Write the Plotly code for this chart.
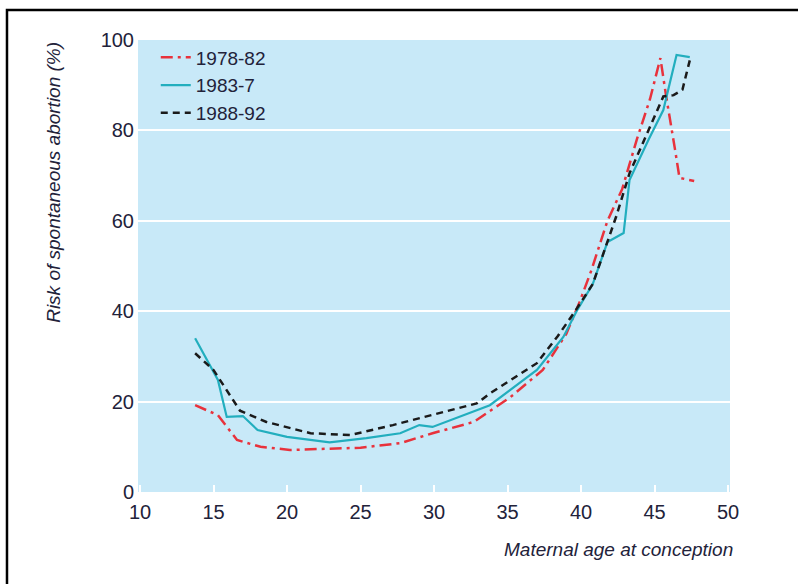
import plotly.graph_objects as go

# Maternal age (x) and risk (%) for each period
red_x = [13.75, 15.3, 16.6, 18.2, 20.2, 22.5, 25.0, 27.7, 29.9, 32.7, 33.8, 35.2, 37.4, 39.0, 39.9, 40.7, 41.8, 42.8, 43.8, 44.7, 45.4, 45.8, 46.4, 46.7, 47.7]
red_y = [19.2, 17.0, 11.5, 10.0, 9.3, 9.6, 9.8, 10.8, 13.0, 15.5, 18.0, 21.0, 27.0, 35.0, 42.0, 49.0, 60.0, 67.0, 78.0, 87.0, 96.0, 87.4, 75.7, 69.5, 68.8]

teal_x = [13.75, 15.3, 15.9, 17.0, 18.0, 20.0, 22.9, 25.4, 27.7, 29.0, 29.9, 33.8, 37.0, 38.8, 39.7, 40.8, 41.8, 42.9, 43.3, 44.6, 45.6, 46.5, 47.4]
teal_y = [34.0, 24.8, 16.6, 16.8, 13.7, 12.2, 11.0, 11.9, 13.0, 14.8, 14.4, 19.2, 27.0, 34.3, 40.0, 46.0, 55.3, 57.3, 69.0, 78.0, 84.5, 96.7, 96.2]

black_x = [13.75, 15.0, 16.8, 18.6, 21.6, 24.3, 27.2, 29.9, 32.9, 33.8, 37.0, 38.4, 39.6, 40.8, 42.0, 42.4, 43.3, 44.2, 45.2, 45.6, 46.3, 46.9, 47.4]
black_y = [30.7, 27.0, 18.0, 15.5, 13.0, 12.6, 14.8, 17.0, 19.6, 21.8, 28.5, 34.4, 40.0, 46.0, 57.3, 61.0, 70.5, 77.0, 84.5, 87.5, 87.8, 89.0, 95.5]

series_names = ["1978-82", "1983-7", "1988-92"]
x_ticks = [10, 15, 20, 25, 30, 35, 40, 45, 50]
y_ticks = [0, 20, 40, 60, 80, 100]

FONT = "Liberation Sans Narrow, Arial Narrow, Liberation Sans, Arial, sans-serif"
TXT = "#22223a"

fig = go.Figure()
fig.add_trace(go.Scatter(x=red_x, y=red_y, mode="lines", name=series_names[0],
                         line=dict(color="#E8323C", width=2.5, dash="12px,5px,3px,5px")))
fig.add_trace(go.Scatter(x=teal_x, y=teal_y, mode="lines", name=series_names[1],
                         line=dict(color="#22AEBE", width=2.2)))
fig.add_trace(go.Scatter(x=black_x, y=black_y, mode="lines", name=series_names[2],
                         line=dict(color="#1A1A1A", width=2.5, dash="7px,5px")))

fig.update_layout(
    width=798, height=584,
    margin=dict(l=138, r=68, t=40, b=92),
    paper_bgcolor="white",
    plot_bgcolor="#C8E9F8",
    font=dict(family=FONT, size=20, color=TXT),
    showlegend=True,
    legend=dict(x=0.03, y=1.0033, xanchor="left", yanchor="top",
                bgcolor="rgba(0,0,0,0)", font=dict(size=19, family=FONT, color=TXT),
                tracegroupgap=0, itemwidth=30),
    xaxis=dict(range=[9.864, 50.136], tickvals=x_ticks, ticktext=[str(v) for v in x_ticks],
               showgrid=False, zeroline=False, showline=False,
               ticks="inside", ticklen=7, tickwidth=2, tickcolor="white",
               ticklabelstandoff=6,
               tickfont=dict(size=20, family=FONT, color=TXT)),
    yaxis=dict(range=[0, 100], tickvals=y_ticks, ticktext=[str(v) for v in y_ticks],
               showgrid=True, gridcolor="white", gridwidth=2, zeroline=False, showline=False,
               ticks="", ticklabelstandoff=3,
               tickfont=dict(size=20, family=FONT, color=TXT)),
)

# axis titles placed as in the reference
fig.add_annotation(text="<i>Maternal age at conception</i>", xref="paper", yref="paper",
                   x=1.008, y=-0.128, xanchor="right", yanchor="middle", showarrow=False,
                   font=dict(size=19, family=FONT, color=TXT))
fig.add_annotation(text="<i>Risk of spontaneous abortion (%)</i>", xref="paper", yref="paper",
                   x=-0.143, y=1.0, xanchor="center", yanchor="top", textangle=-90, showarrow=False,
                   font=dict(size=19, family=FONT, color=TXT))

# outer frame
fig.add_shape(type="rect", xref="paper", yref="paper",
              x0=-0.2213, x1=1.3, y0=-0.4, y1=1.0664,
              line=dict(color="black", width=2.5), fillcolor="rgba(0,0,0,0)", layer="above")

fig.write_html("out.html")
